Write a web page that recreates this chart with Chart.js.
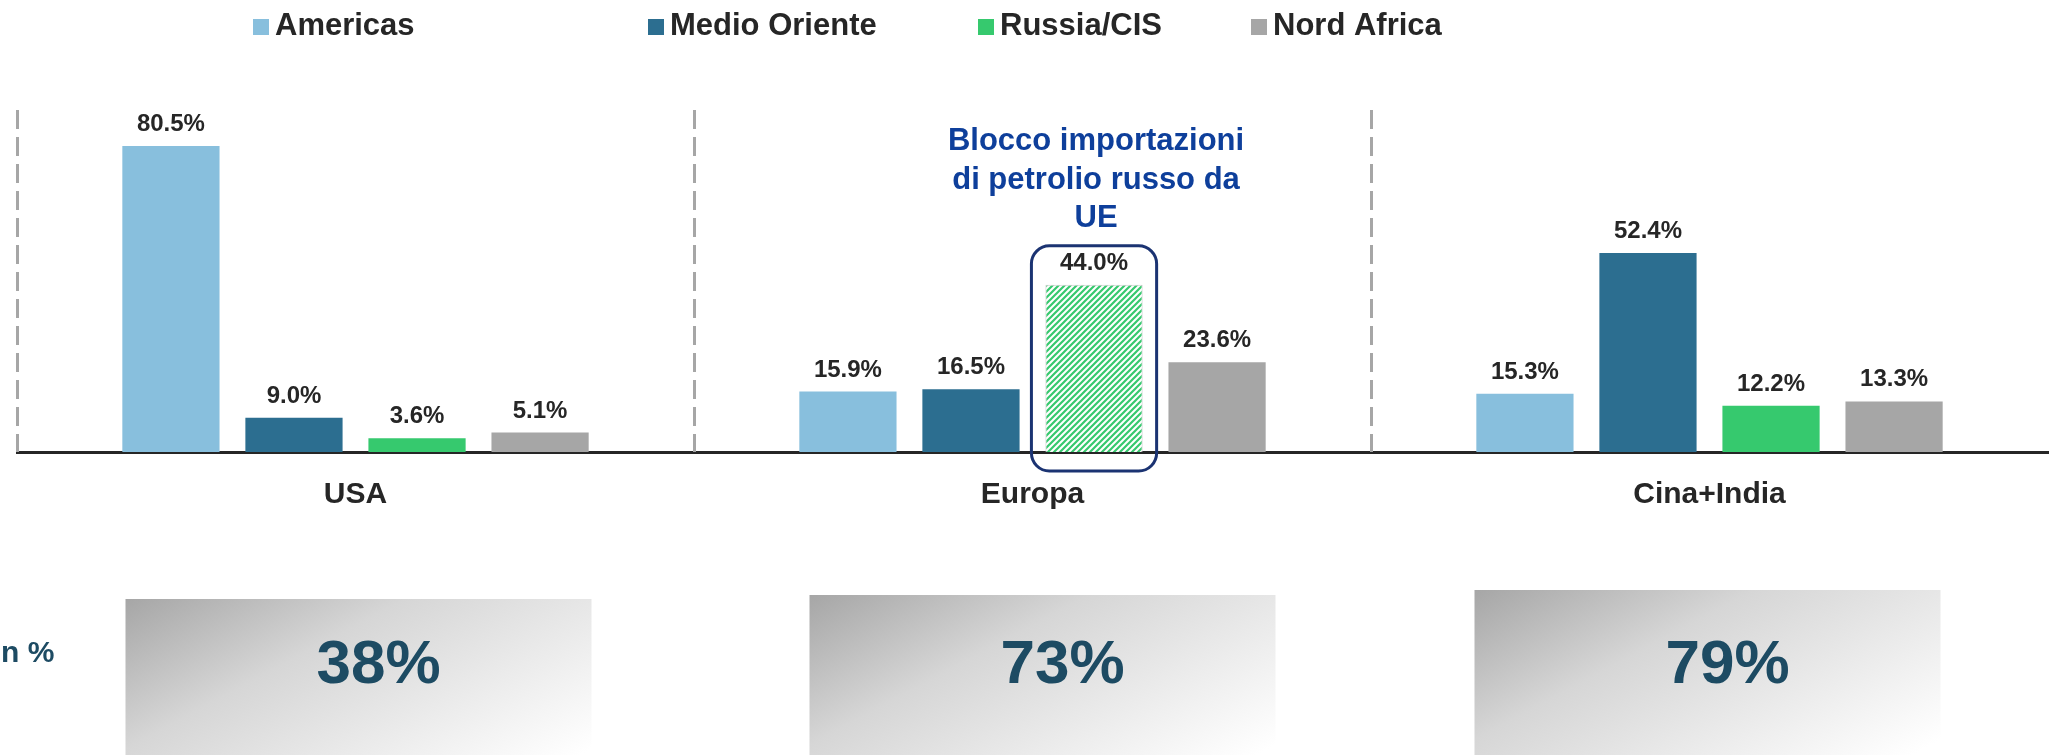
<!DOCTYPE html>
<html lang="it">
<head>
<meta charset="utf-8">
<title>Importazioni di petrolio per area di origine</title>
<script src="https://cdn.jsdelivr.net/npm/chart.js@4.4.1/dist/chart.umd.min.js"></script>
<style>
    html, body { margin: 0; padding: 0; background: #ffffff; }
    canvas { display: block; }
</style>
</head>
<body>
<canvas id="importChart" width="2052" height="755"></canvas>
<script>
// --- data ---
const regions = ['USA', 'Europa', 'Cina+India'];
const seriesNames = ['Americas', 'Medio Oriente', 'Russia/CIS', 'Nord Africa'];
const americas = [80.5, 15.9, 15.3];
const medioOriente = [9.0, 16.5, 52.4];
const russiaCis = [3.6, 44.0, 12.2];
const nordAfrica = [5.1, 23.6, 13.3];
const boxValues = ['38%', '73%', '79%'];
const sideLabel = 'n %';
const noteLines = ['Blocco importazioni', 'di petrolio russo da', 'UE'];

const seriesColors = ['#88BFDD', '#2C6E90', '#36C96E', '#A6A6A6'];
const FONT = "'Liberation Sans', Arial, Helvetica, sans-serif";
const TEXT_DARK = '#262626';
const TEAL = '#1D4B63';

const canvas = document.getElementById('importChart');
const ctx = canvas.getContext('2d');

/**
 * Builds a diagonal green hatch used for the highlighted Europa bar.
 */
function makeHatch(color) {
    const size = 6;
    const tile = document.createElement('canvas');
    tile.width = size;
    tile.height = size;
    const g = tile.getContext('2d');
    g.fillStyle = '#ffffff';
    g.fillRect(0, 0, size, size);
    g.strokeStyle = color;
    g.lineWidth = 2.2;
    g.beginPath();
    g.moveTo(0, size); g.lineTo(size, 0);
    g.moveTo(-size / 2, size / 2); g.lineTo(size / 2, -size / 2);
    g.moveTo(size / 2, size * 1.5); g.lineTo(size * 1.5, size / 2);
    g.stroke();
    return ctx.createPattern(tile, 'repeat');
}

const hatch = makeHatch(seriesColors[2]);

// index of the highlighted bar (Europa, Russia/CIS)
const highlight = { dataset: 2, index: 1 };

/**
 * Diagonal grey-to-white fill scaled to the box (like an office shape fill).
 */
function boxGradient(g, x0, y0, w, h) {
    const t = 2 / (h / w + w / h);
    const grad = g.createLinearGradient(x0, y0, x0 + t * h, y0 + t * w);
    grad.addColorStop(0, '#A6A6A6');
    grad.addColorStop(0.3, '#D6D6D6');
    grad.addColorStop(0.8, '#FFFFFF');
    grad.addColorStop(1, '#FFFFFF');
    return grad;
}

const decorations = {
    id: 'decorations',
    beforeDatasetsDraw(chart) {
        const { ctx, chartArea, scales: { x } } = chart;
        const half = (x.getPixelForValue(1) - x.getPixelForValue(0)) / 2;
        ctx.save();
        ctx.strokeStyle = '#A6A6A6';
        ctx.lineWidth = 3;
        ctx.setLineDash([19, 8]);
        regions.forEach((r, i) => {
            const px = Math.round(x.getPixelForValue(i) - half) + 0.5;
            ctx.beginPath();
            ctx.moveTo(px, chartArea.top);
            ctx.lineTo(px, chartArea.bottom);
            ctx.stroke();
        });
        ctx.restore();
    },
    afterDatasetsDraw(chart) {
        const { ctx } = chart;
        ctx.save();
        // value labels
        ctx.fillStyle = TEXT_DARK;
        ctx.font = `bold 24px ${FONT}`;
        ctx.textAlign = 'center';
        ctx.textBaseline = 'alphabetic';
        chart.data.datasets.forEach((ds, di) => {
            chart.getDatasetMeta(di).data.forEach((bar, i) => {
                ctx.fillText(ds.data[i].toFixed(1) + '%', bar.x, bar.y - 15);
            });
        });

        // rounded frame around the highlighted bar
        const hb = chart.getDatasetMeta(highlight.dataset).data[highlight.index];
        const bx = hb.x - hb.width / 2 - 14;
        const bw = hb.width + 28;
        const by = hb.y - 39;
        const bh = hb.base + 19 - by;
        ctx.strokeStyle = '#1B3372';
        ctx.lineWidth = 3;
        ctx.beginPath();
        ctx.roundRect(bx, by, bw, bh, 18);
        ctx.stroke();

        // note above the frame
        ctx.fillStyle = '#0E3F9B';
        ctx.font = `bold 31px ${FONT}`;
        ctx.textBaseline = 'middle';
        noteLines.forEach((line, k) => {
            ctx.fillText(line, hb.x + 2, hb.y - 143 + k * 38.5);
        });
        ctx.restore();
    },
    afterDraw(chart) {
        const { ctx, scales: { x } } = chart;
        ctx.save();

        // legend
        const legendX = [253, 648, 978, 1251];
        ctx.font = `bold 31px ${FONT}`;
        ctx.textAlign = 'left';
        ctx.textBaseline = 'middle';
        seriesNames.forEach((name, i) => {
            ctx.fillStyle = seriesColors[i];
            ctx.fillRect(legendX[i], 19, 16, 16);
            ctx.fillStyle = TEXT_DARK;
            ctx.fillText(name, legendX[i] + 22, 26);
        });

        // share boxes under each region
        const boxOffset = [3, 10, -2];
        const boxTop = [599, 595, 590];
        const boxW = 466;
        const boxH = 250;
        regions.forEach((r, i) => {
            const cx = x.getPixelForValue(i) + boxOffset[i];
            const x0 = cx - boxW / 2;
            const y0 = boxTop[i];
            ctx.fillStyle = boxGradient(ctx, x0, y0, boxW, boxH);
            ctx.fillRect(x0, y0, boxW, chart.height - y0);

            ctx.fillStyle = TEAL;
            ctx.font = `bold 62px ${FONT}`;
            ctx.textAlign = 'center';
            ctx.fillText(boxValues[i], cx + 20, 666);
        });

        // clipped side label
        ctx.fillStyle = TEAL;
        ctx.font = `bold 30px ${FONT}`;
        ctx.textAlign = 'left';
        ctx.fillText(sideLabel, 1, 654);
        ctx.restore();
    }
};

new Chart(ctx, {
    type: 'bar',
    data: {
        labels: regions,
        datasets: [
            { label: seriesNames[0], data: americas, backgroundColor: seriesColors[0] },
            { label: seriesNames[1], data: medioOriente, backgroundColor: seriesColors[1] },
            {
                label: seriesNames[2],
                data: russiaCis,
                backgroundColor: c => c.dataIndex === highlight.index ? hatch : seriesColors[2],
                borderColor: c => c.dataIndex === highlight.index ? '#C8C8C8' : seriesColors[2],
                borderWidth: c => c.dataIndex === highlight.index ? 1 : 0
            },
            { label: seriesNames[3], data: nordAfrica, backgroundColor: seriesColors[3] }
        ]
    },
    options: {
        responsive: false,
        animation: false,
        categoryPercentage: 0.727,
        barPercentage: 0.79,
        layout: {
            padding: { top: 110, left: 17, right: 4, bottom: 217 }
        },
        scales: {
            x: {
                grid: { display: false, drawTicks: false },
                border: { display: true, color: '#262626', width: 3 },
                ticks: {
                    padding: 25,
                    color: TEXT_DARK,
                    font: { family: FONT, size: 30, weight: 'bold' }
                }
            },
            y: {
                display: false,
                min: 0,
                max: 90
            }
        },
        plugins: {
            legend: { display: false },
            tooltip: { enabled: false }
        }
    },
    plugins: [decorations]
});
</script>
</body>
</html>
